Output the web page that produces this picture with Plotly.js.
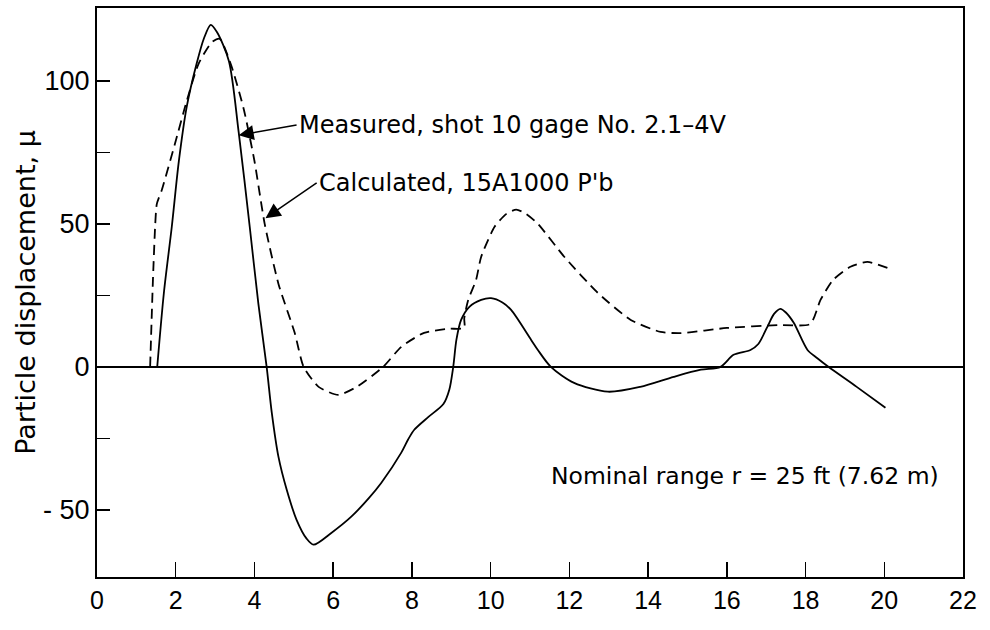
<!DOCTYPE html>
<html>
<head>
<meta charset="utf-8">
<script src="https://cdn.plot.ly/plotly-3.0.1.min.js"></script>
<style>html,body{margin:0;padding:0;background:#fff;}#chart{width:990px;height:630px;}</style>
</head>
<body>
<div id="chart"></div>
<script>
// Measured, shot 10 gage No. 2.1-4V (solid)
var measuredX = [1.53,1.7,1.9,2.08,2.28,2.53,2.72,2.89,3.05,3.35,3.6,3.88,4.1,4.31,4.44,4.61,4.82,5.07,5.32,5.5,5.96,6.46,6.9,7.22,7.73,7.9,8.06,8.42,8.8,8.95,9.05,9.13,9.25,9.46,9.76,10.01,10.3,10.52,11.03,11.2,11.53,12.12,12.98,13.8,14.65,15.34,15.84,16.17,16.6,16.8,17.03,17.2,17.36,17.5,17.7,18.05,18.3,18.58,19.3,20.03];
var measuredY = [0,26,49,72,91,106,115,119.6,117,107,82,49,22,0,-16,-31.5,-43,-53.5,-60,-62.2,-58,-52.4,-46,-40.6,-30,-25.5,-22,-17.5,-13,-8,0,9.4,16.4,21,23.4,24,22.5,19.9,9.4,5.9,0,-5.6,-8.7,-7,-3.5,-1,0,4.2,5.9,8,14,18.5,20.3,19,15.4,5.9,3,0,-7,-14.3];
// Calculated, 15A1000 P'b (dashed)
var calculatedX = [1.35,1.42,1.48,1.52,1.65,1.98,2.28,2.58,2.92,3.12,3.42,3.73,4.0,4.26,4.61,5.02,5.25,5.63,6.13,6.6,7.27,7.73,8.31,8.92,9.33,9.33,9.43,9.63,9.76,10.1,10.4,10.65,10.9,11.2,11.87,12.72,13.56,14.32,14.83,16.0,17.3,18.12,18.38,18.7,19.14,19.57,20.2];
var calculatedY = [0,30,50,57,62,78,93,106,113.6,114.7,105,90,72,50,29,12,0,-7,-9.8,-7,0,7,11.9,13.3,13.6,17,23.4,30.4,38.5,49,53.5,55,53.5,50,38.5,25.9,16.4,12.2,11.8,13.6,14.6,15,23.4,30.4,35,36.7,34];

var yTickVals = [-50,-25,0,25,50,75,100];
var yTickText = ['- 50','','0','','50','','100'];
var xTickVals = [0,2,4,6,8,10,12,14,16,18,20,22];
var xTickText = ['0','2','4','6','8','10','12','14','16','18','20','22'];

var FONT = 'DejaVu Sans, sans-serif';
var TICKFONT = 'Liberation Sans, Arial, sans-serif';

var traces = [
  {x: measuredX, y: measuredY, mode: 'lines', line: {color: '#000', width: 1.8, shape: 'spline', smoothing: 0.8}, name: 'Measured'},
  {x: calculatedX, y: calculatedY, mode: 'lines', line: {color: '#000', width: 1.8, dash: '10px,6px', shape: 'spline', smoothing: 0.6}, name: 'Calculated'}
];

var layout = {
  width: 990, height: 630,
  margin: {l: 97, r: 27, t: 8, b: 53},
  paper_bgcolor: '#fff', plot_bgcolor: '#fff',
  showlegend: false,
  font: {family: FONT, color: '#000', size: 20},
  xaxis: {
    range: [0, 22], tickvals: xTickVals, ticktext: xTickText,
    ticks: 'inside', ticklen: 15, tickwidth: 1.5, tickcolor: '#000',
    showline: true, linecolor: '#000', linewidth: 2, mirror: true,
    showgrid: false, zeroline: false,
    tickfont: {family: TICKFONT, size: 25, color: '#000'}
  },
  yaxis: {
    range: [-73.5, 125.5], tickvals: yTickVals, ticktext: yTickText,
    ticks: 'inside', ticklen: 13, tickwidth: 1.5, tickcolor: '#000',
    showline: true, linecolor: '#000', linewidth: 2, mirror: true,
    showgrid: false, zeroline: true, zerolinecolor: '#000', zerolinewidth: 1.5,
    tickfont: {family: TICKFONT, size: 27, color: '#000'},
    title: {text: 'Particle displacement, \u03bc', font: {family: FONT, size: 27, color: '#000'}, standoff: 0}
  },
  annotations: [
    {x: 3.6, y: 81, xref: 'x', yref: 'y', ax: 5.07, ay: 84.6, axref: 'x', ayref: 'y',
     text: 'Measured, shot 10 gage No. 2.1\u20134V', showarrow: true, arrowhead: 2, arrowsize: 2, arrowwidth: 1.5, arrowcolor: '#000',
     xanchor: 'left', yanchor: 'middle', font: {family: FONT, size: 24, color: '#000'}},
    {x: 4.28, y: 52, xref: 'x', yref: 'y', ax: 5.58, ay: 64.3, axref: 'x', ayref: 'y',
     text: "Calculated, 15A1000 P'b", showarrow: true, arrowhead: 2, arrowsize: 2, arrowwidth: 1.5, arrowcolor: '#000',
     xanchor: 'left', yanchor: 'middle', font: {family: FONT, size: 24, color: '#000'}},
    {x: 11.48, y: -38.1, xref: 'x', yref: 'y', text: 'Nominal range r = 25 ft (7.62 m)', showarrow: false,
     xanchor: 'left', yanchor: 'middle', font: {family: FONT, size: 23.5, color: '#000'}}
  ]
};

Plotly.newPlot('chart', traces, layout, {displayModeBar: false, staticPlot: true});
</script>
</body>
</html>
